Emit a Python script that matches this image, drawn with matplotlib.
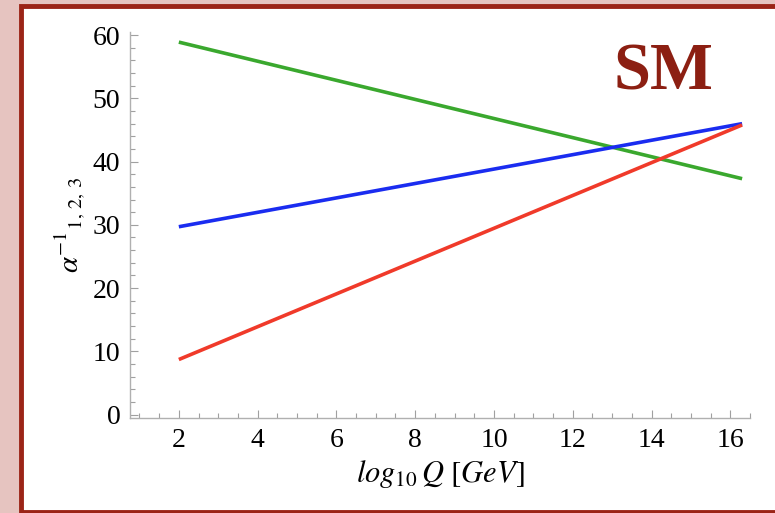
"""Inverse gauge couplings running in the Standard Model."""

import matplotlib.pyplot as plt
from matplotlib.patches import Rectangle
from matplotlib.ticker import MultipleLocator

# log10 Q endpoints and inverse couplings
log_q = [2.0, 16.3]
alpha1_inv = [58.9, 37.3]   # green
alpha2_inv = [29.7, 46.0]   # blue
alpha3_inv = [8.7, 45.8]    # red

series = [
    (alpha1_inv, '#3aa82e'),
    (alpha2_inv, '#1a2cf0'),
    (alpha3_inv, '#f03a2a'),
]

plt.rcParams['font.family'] = ['Liberation Serif', 'DejaVu Serif']
plt.rcParams['mathtext.fontset'] = 'stix'

fig = plt.figure(figsize=(7.75, 5.13), dpi=100)
fig.patch.set_facecolor('#e6c4c0')

# White panel with dark red frame
frame = Rectangle((20.5 / 775, 1.5 / 513), 1.05, 1 - 7.5 / 513,
                  transform=fig.transFigure, facecolor='white',
                  edgecolor='#9b2417', linewidth=3.5, zorder=0)
fig.patches.append(frame)

ax = fig.add_axes([130 / 775, 95 / 513, 620 / 775, 386 / 513])
ax.set_zorder(2)
ax.set_facecolor('none')

for values, color in series:
    ax.plot(log_q, values, color=color, linewidth=2.6, solid_capstyle='butt')

ax.set_xlim(0.76, 16.5)
ax.set_ylim(-0.55, 60.5)

for side in ['top', 'right']:
    ax.spines[side].set_visible(False)
for side in ['left', 'bottom']:
    ax.spines[side].set_color('#b0b0b0')
    ax.spines[side].set_linewidth(1.0)

ax.xaxis.set_major_locator(MultipleLocator(2))
ax.xaxis.set_minor_locator(MultipleLocator(0.5))
ax.yaxis.set_major_locator(MultipleLocator(10))
ax.yaxis.set_minor_locator(MultipleLocator(2))
ax.set_xticks(range(2, 17, 2))

ax.tick_params(which='both', direction='in', color='#a0a0a0', width=0.8)
ax.tick_params(which='major', length=6, labelsize=20, pad=7)
ax.tick_params(which='minor', length=3.5)

ax.set_xlabel(r'$log_{10}\,Q\ [GeV]$', fontsize=22, labelpad=4)
ax.set_ylabel(r'$\alpha^{-1}{}_{1,\,2,\,3}$', fontsize=21, labelpad=4)

ax.text(0.861, 0.894, 'SM', transform=ax.transAxes, fontsize=48,
        fontweight='bold', color='#8c1f12', ha='center', va='center')

fig.savefig('out.png', dpi=100, facecolor=fig.get_facecolor())
